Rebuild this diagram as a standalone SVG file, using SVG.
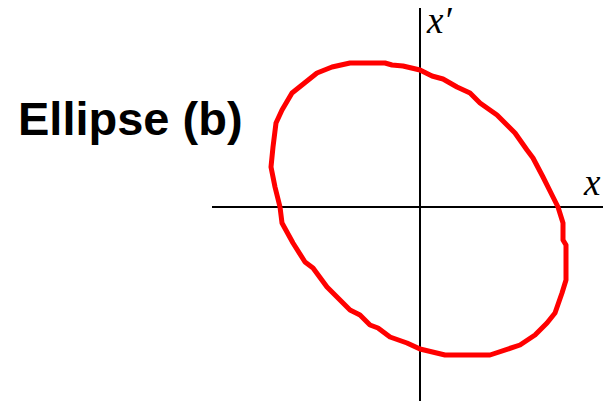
<svg xmlns="http://www.w3.org/2000/svg" width="603" height="404" viewBox="0 0 603 404">
<style>
.axis{stroke:#000;stroke-width:2;fill:none}
.curve{stroke:#ff0000;stroke-width:5;fill:none;stroke-linejoin:round}
.lab{font-family:"Liberation Serif",serif;font-style:italic;font-size:37px;fill:#000}
.title{font-family:"Liberation Sans",Arial,sans-serif;font-weight:bold;font-size:47px;fill:#000}
</style>
<rect width="603" height="404" fill="#fff"/>
<g id="axes">
<line class="axis" x1="212" y1="207" x2="603" y2="207"/>
<line class="axis" x1="420" y1="8" x2="420" y2="401"/>
</g>
<g id="ellipse">
<polyline class="curve" points="280,207 275,187 271,167 273,147 276,123 282,110 292,93 302,85 317,73 332,67 350,63 385,63 392,65 403,66 420,70 432,76 443,79 457,87 470,93 480,103 497,115 515,133 527,150 533,158 543,177 553,197 558,207 563,223 563,240 566,245 566,280 562,293 555,313 547,323 535,335 520,345 490,355 445,355 420,349 407,343 390,337 378,328 370,325 360,315 350,310 327,287 313,268 305,262 293,243 282,223 280,207"/>
</g>
<g id="labels">
<text class="lab" x="427" y="33">x′</text>
<text class="lab" x="584" y="195">x</text>
<text class="title" x="18" y="135">Ellipse (b)</text>
</g>
</svg>
